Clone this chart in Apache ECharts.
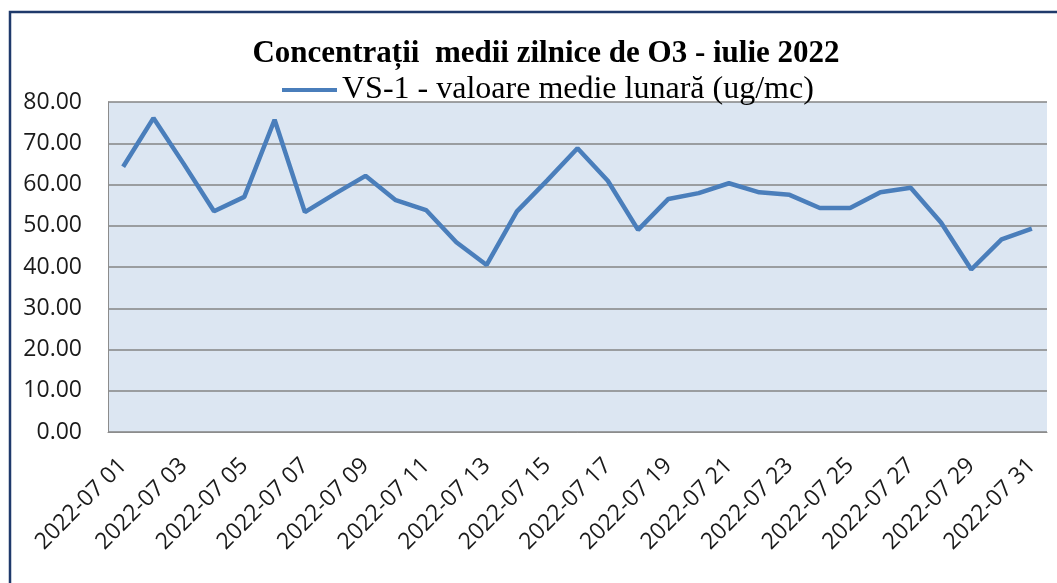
<!DOCTYPE html>
<html>
<head>
<meta charset="utf-8">
<script src="https://cdn.jsdelivr.net/npm/echarts@6/dist/echarts.min.js"></script>
<style>
  html, body { margin: 0; padding: 0; background: #fff; }
  #chart { width: 1057px; height: 583px; }
</style>
</head>
<body>
<div id="chart"></div>
<script>
// zilele lunii iulie 2022
const days = [
  '2022-07 01', '2022-07 02', '2022-07 03', '2022-07 04', '2022-07 05', '2022-07 06',
  '2022-07 07', '2022-07 08', '2022-07 09', '2022-07 10', '2022-07 11', '2022-07 12',
  '2022-07 13', '2022-07 14', '2022-07 15', '2022-07 16', '2022-07 17', '2022-07 18',
  '2022-07 19', '2022-07 20', '2022-07 21', '2022-07 22', '2022-07 23', '2022-07 24',
  '2022-07 25', '2022-07 26', '2022-07 27', '2022-07 28', '2022-07 29', '2022-07 30',
  '2022-07 31'
]
const vs1Values = [
  64.3, 76.1, 65.0, 53.5, 57.0, 75.7, 53.3, 57.8, 62.1, 56.2, 53.8, 46.0,
  40.5, 53.5, 61.0, 68.8, 60.9, 49.0, 56.5, 57.9, 60.3, 58.1, 57.5, 54.3,
  54.3, 58.1, 59.2, 50.8, 39.4, 46.7, 49.3
]
const yTicks = [0, 10, 20, 30, 40, 50, 60, 70, 80]

const seriesName = 'VS-1 - valoare medie lunară (ug/mc)'

const chart = echarts.init(document.getElementById('chart'))
chart.setOption({
  animation: false,
  backgroundColor: '#fff',
  graphic: [{
    type: 'rect',
    shape: { x: 10, y: 12, width: 1100, height: 640 },
    style: { fill: 'none', stroke: '#1f3a6b', lineWidth: 2.5 },
    silent: true
  }],
  title: {
    text: 'Concentrații  medii zilnice de O3 - iulie 2022',
    left: 541,
    top: 33,
    textAlign: 'center',
    textStyle: {
      fontFamily: 'Liberation Serif',
      fontWeight: 'bold',
      fontSize: 31,
      color: '#000'
    }
  },
  legend: {
    data: [seriesName],
    left: 277,
    top: 69,
    icon: 'rect',
    itemWidth: 55,
    itemHeight: 4,
    textStyle: {
      fontFamily: 'Liberation Serif, serif',
      fontSize: 32,
      color: '#000'
    }
  },
  grid: {
    left: 108,
    right: 10,
    top: 102,
    bottom: 151,
    show: true,
    backgroundColor: '#dce6f2',
    borderWidth: 0
  },
  xAxis: {
    type: 'category',
    data: days,
    boundaryGap: true,
    axisLine: { lineStyle: { color: '#8c8c8c', width: 1 } },
    axisTick: { show: false },
    axisLabel: {
      interval: 1,
      rotate: 45,
      margin: 30,
      fontFamily: 'Open Sans',
      fontSize: 23,
      color: '#1a1a1a'
    }
  },
  yAxis: {
    type: 'value',
    min: yTicks[0],
    max: yTicks[yTicks.length - 1],
    interval: 10,
    axisLine: { show: true, lineStyle: { color: '#8c8c8c', width: 1 } },
    axisTick: { show: false },
    axisLabel: {
      margin: 26,
      fontFamily: 'Open Sans',
      fontSize: 23,
      color: '#1a1a1a',
      formatter: v => v.toFixed(2)
    },
    splitLine: { lineStyle: { color: '#858585', width: 1.5 } }
  },
  series: [{
    name: seriesName,
    type: 'line',
    data: vs1Values,
    showSymbol: false,
    symbol: 'none',
    lineStyle: { color: '#4a7ebb', width: 4.5 },
    itemStyle: { color: '#4a7ebb' }
  }]
})
</script>
</body>
</html>
